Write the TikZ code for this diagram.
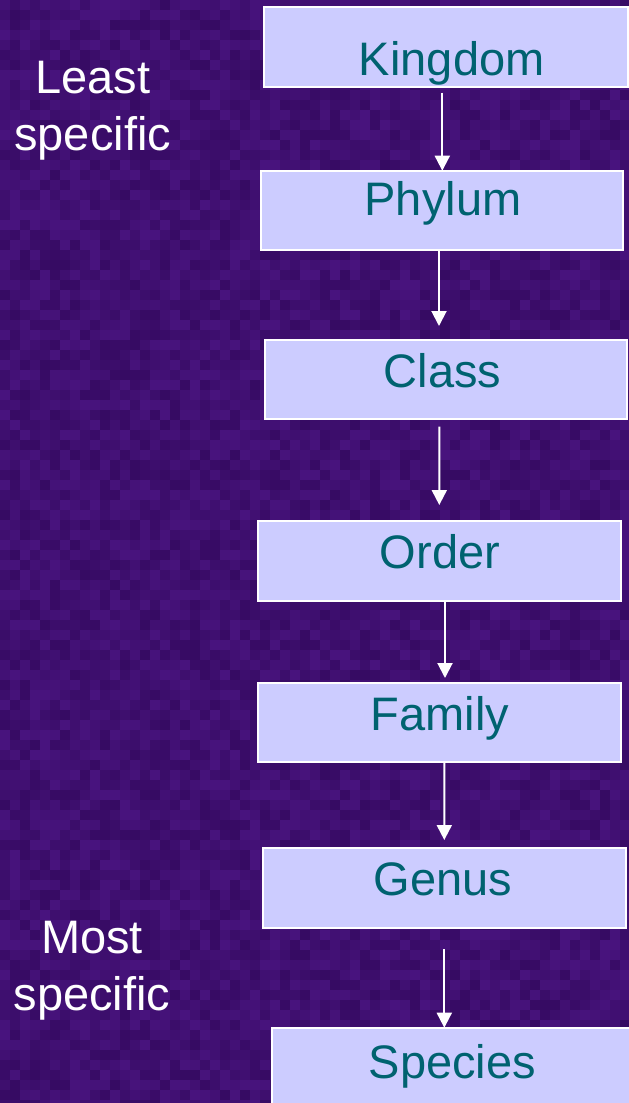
\documentclass[tikz,border=0pt]{standalone}
\usepackage{fontspec}
\setmainfont{Liberation Sans}
\usetikzlibrary{arrows.meta}
\definecolor{bgpurple}{RGB}{62,14,112}
\definecolor{bgdark}{RGB}{44,6,84}
\definecolor{bglight}{RGB}{82,24,140}
\definecolor{boxfill}{RGB}{204,204,255}
\definecolor{boxtext}{RGB}{0,98,112}
\tikzset{
  rankbox/.style={draw=white, line width=1.8pt, fill=boxfill, rectangle,
    inner sep=0pt, outer sep=0pt},
  ranktext/.style={text=boxtext, font=\fontsize{47}{56}\selectfont,
    inner sep=0pt, anchor=base},
  sidetext/.style={text=white, font=\fontsize{47}{57}\selectfont,
    align=center, inner sep=0pt, anchor=base},
  arr/.style={draw=white, line width=2pt,
    -{Triangle[width=15pt,length=15pt]}}
}
\begin{document}
\begin{tikzpicture}[x=1pt,y=-1pt]
\useasboundingbox (0,0) rectangle (629,1103);
\begin{scope}
\clip (0,0) rectangle (629,1103);
\fill[bgpurple] (0,0) rectangle (629,1103);
\pgfmathsetseed{4242}
\foreach \i in {0,...,62}{
  \foreach \j in {0,...,110}{
    \pgfmathsetmacro\mixv{int(25+50*rnd)}
    \fill[bgdark!\mixv!bglight] (\i*10,\j*10) rectangle +(10,10);
  }
}
% boxes
\node[rankbox, minimum width=363.4pt, minimum height=80pt] (kingdom) at (446,46.7) {};
\node[rankbox, minimum width=362pt, minimum height=79.3pt] (phylum) at (441.7,210.35) {};
\node[rankbox, minimum width=361.7pt, minimum height=79.3pt] (class) at (445.85,379.65) {};
\node[rankbox, minimum width=362.7pt, minimum height=79.7pt] (order) at (439.65,560.85) {};
\node[rankbox, minimum width=362.7pt, minimum height=79pt] (family) at (439.65,722.2) {};
\node[rankbox, minimum width=362.4pt, minimum height=80pt] (genus) at (444.5,888.3) {};
\node[rankbox, minimum width=362pt, minimum height=80pt] (species) at (452.7,1067.7) {};
\end{scope}
% box labels
\node[ranktext] (tkingdom) at (451.7,75) {Kingdom};
\node[ranktext] (tphylum) at (443,215) {Phylum};
\node[ranktext] (tclass) at (442.7,387) {Class};
\node[ranktext] (torder) at (440,568.3) {Order};
\node[ranktext] (tfamily) at (440,730.7) {Family};
\node[ranktext] (tgenus) at (442.7,895) {Genus};
\node[ranktext] (tspecies) at (452.3,1078.3) {Species};
% side labels
\node[sidetext] (least) at (92.7,150) {Least\\specific};
\node[sidetext] (most) at (92,1010) {Most\\specific};
% arrows
\draw[arr] ([xshift=-3.7pt,yshift=-6pt]kingdom.south) -- ([xshift=0.6pt]phylum.north);
\draw[arr] ([xshift=-2.7pt]phylum.south) -- ([xshift=-6.85pt,yshift=14pt]class.north);
\draw[arr] ([xshift=-6.55pt,yshift=-7.4pt]class.south) -- ([xshift=-0.35pt,yshift=16pt]order.north);
\draw[arr] ([xshift=5.35pt]order.south) -- ([xshift=5.35pt,yshift=4.7pt]family.north);
\draw[arr] ([xshift=4.65pt]family.south) -- ([xshift=-0.2pt,yshift=8.3pt]genus.north);
\draw[arr] ([xshift=-0.2pt,yshift=-20.7pt]genus.south) -- ([xshift=-8.4pt]species.north);
\end{tikzpicture}
\end{document}
